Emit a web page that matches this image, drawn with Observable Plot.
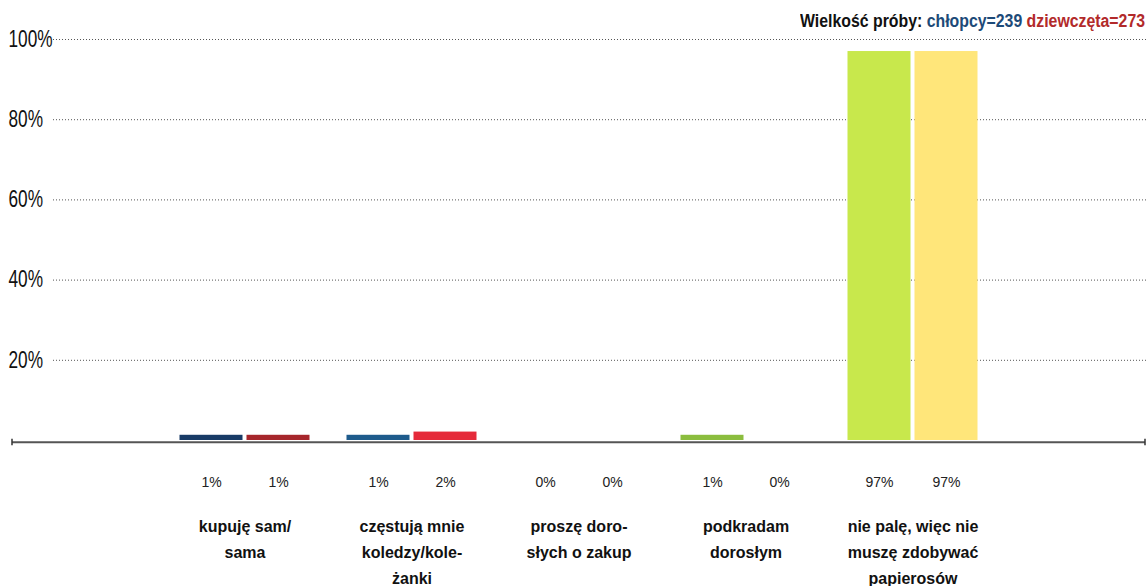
<!DOCTYPE html>
<html>
<head>
<meta charset="utf-8">
<script src="https://cdn.jsdelivr.net/npm/d3@7"></script>
<script src="https://cdn.jsdelivr.net/npm/@observablehq/plot@0.6"></script>
<style>
  html, body { margin: 0; padding: 0; background: #fff; }
  #wrap { position: relative; width: 1148px; height: 586px; }
  #legend {
    position: absolute; right: 3px; top: 11.5px;
    font-family: "Liberation Sans", Arial, sans-serif;
    font-weight: bold; font-size: 18px; line-height: 18px; color: #111; white-space: nowrap;
    transform: scaleX(0.88); transform-origin: right center;
  }
  #legend .b { color: #1d4a78; }
  #legend .g { color: #b22a2a; }
  g[aria-label="y-axis tick label"] {
    font-family: "Liberation Sans", Arial, sans-serif;
    font-size: 23px;
  }
</style>
</head>
<body>
<div id="wrap">
  <div id="legend">Wielkość próby: <span class="b">chłopcy=239</span> <span class="g">dziewczęta=273</span></div>
</div>
<script>
const categories = [
  "kupuję sam/\nsama",
  "częstują mnie\nkoledzy/kole-\nżanki",
  "proszę doro-\nsłych o zakup",
  "podkradam\ndorosłym",
  "nie palę, więc nie\nmuszę zdobywać\npapierosów"
];
const boys  = [1.3, 1.3, 0, 1.3, 97];
const girls = [1.3, 2.1, 0, 0, 97];
const boysColors  = ["#183b66", "#1e5b8c", "#3a7a6a", "#8bbd3e", "#c8e84c"];
const girlsColors = ["#a6262b", "#e52a3a", "#e07a2a", "#f0a030", "#ffe67a"];
const yTicks = [20, 40, 60, 80, 100];

const rows = categories.map((c, i) => ({
  cat: c, boys: boys[i], girls: girls[i], bc: boysColors[i], gc: girlsColors[i]
}));
const pct = v => Math.round(v) + "%";
const FONT = "Liberation Sans, Arial, sans-serif";

const plot = Plot.plot({
  width: 1148,
  height: 586,
  marginLeft: 12,
  marginRight: 3,
  marginTop: 39,
  marginBottom: 146,
  style: { fontFamily: FONT, background: "transparent", overflow: "visible" },
  x: { type: "band", domain: categories, range: [160.5, 995.5], padding: 0, axis: null },
  y: { domain: [0, 100], axis: null },
  color: { type: "identity" },
  marks: [
    Plot.ruleY(yTicks, { stroke: "#555", strokeDasharray: "1,2", insetLeft: 41, insetRight: -3 }),
    Plot.axisY({
      ticks: yTicks, tickSize: 0, tickPadding: 4, textAnchor: "start",
      tickFormat: d => d + "%", fill: "#111"
    }),
    Plot.barY(rows, { x: "cat", y: "boys", fill: "bc", insetLeft: 18.5, insetRight: 85.5 }),
    Plot.barY(rows, { x: "cat", y: "girls", fill: "gc", insetLeft: 85.5, insetRight: 18.5 }),
    Plot.ruleY([0], { stroke: "#555", strokeWidth: 2, dy: 1.7 }),
    Plot.text(rows, {
      x: "cat", text: d => pct(d.boys), frameAnchor: "bottom", dy: 42, dx: -33.5,
      lineAnchor: "middle", fontSize: 14, fill: "#222", letterSpacing: 1.5, fontFamily: FONT
    }),
    Plot.text(rows, {
      x: "cat", text: d => pct(d.girls), frameAnchor: "bottom", dy: 42, dx: 33.5,
      lineAnchor: "middle", fontSize: 14, fill: "#222", letterSpacing: 1.5, fontFamily: FONT
    }),
    Plot.text(rows, {
      x: "cat", text: "cat", frameAnchor: "bottom", dy: 72.6,
      lineAnchor: "top", lineHeight: 1.64, fontSize: 16, fontWeight: "bold", fill: "#111", fontFamily: FONT
    })
  ]
});

const svg = d3.select(plot);

// condense the y tick labels horizontally around their start point
svg.selectAll('g[aria-label="y-axis tick label"] text').each(function () {
  const t = d3.select(this);
  const tr = t.attr("transform") || "";
  const xs = t.attr("x");
  const x = (xs != null && !/em$/.test(xs)) ? +xs : 0;
  if (xs != null && !/em$/.test(xs)) t.attr("x", null);
  t.attr("transform", `${tr} translate(${x},0) scale(0.75,1)`);
});

// small end ticks on the baseline
const y0 = plot.scale("y").apply(0) + 1.7;
[12, 1145].forEach(xx => {
  svg.append("line")
    .attr("x1", xx).attr("x2", xx)
    .attr("y1", y0 - 3).attr("y2", y0 + 3.5)
    .attr("stroke", "#333").attr("stroke-width", 1.5);
});

document.getElementById("wrap").prepend(plot);
</script>
</body>
</html>
